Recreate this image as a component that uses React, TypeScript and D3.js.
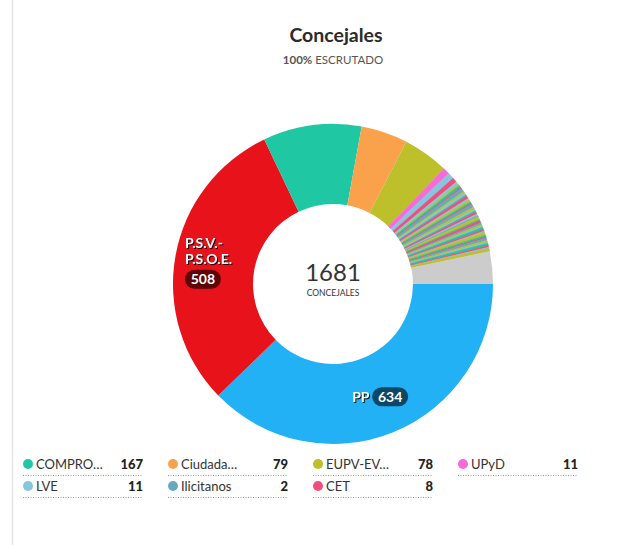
import React from "react";
import * as d3 from "d3";

const mainParties = ["PP", "P.S.V.-P.S.O.E.", "COMPROMÍS", "Ciudadanos", "EUPV-EV", "UPyD", "LVE", "CET"];
const mainSeats = [634, 508, 167, 79, 78, 11, 11, 8];
const mainColors = ["#23b1f5", "#e8121b", "#20c7a3", "#f9a24b", "#bdbf2b", "#f66bd6", "#85c6dc", "#ee4f7d"];

// many small local parties (read as thin stripes)
const smallSeats = [5, 3, 4, 2, 6, 3, 4, 2, 5, 3, 4, 3, 2, 5, 4, 3, 2, 4, 3, 5, 2, 4, 3, 3, 2, 4, 3, 2, 5, 3, 2, 4, 3, 2, 4, 3, 2, 5];
const ilicitanosSeats = 2;
const othersSeats = 55;

const stripePalette = ["#85c6dc", "#bdbf2b", "#20c7a3", "#ee4f7d", "#67aabf", "#bdbf2b", "#85c6dc", "#20c7a3", "#ee4f7d"];

const legendNames = ["COMPRO…", "Ciudada…", "EUPV-EV…", "UPyD", "LVE", "Ilicitanos", "CET"];
const legendValues = [167, 79, 78, 11, 11, 2, 8];
const legendColors = ["#20c7a3", "#f9a24b", "#bdbf2b", "#f66bd6", "#85c6dc", "#67aabf", "#ee4f7d"];

const totalSeats = 1681;

type Slice = { name: string; value: number; color: string };

export default function App() {
  const W = 635, H = 545;
  const cx = 333, cy = 284;
  const outerR = 160, innerR = 80;

  const slices: Slice[] = [];
  mainParties.forEach((n, i) => slices.push({ name: n, value: mainSeats[i], color: mainColors[i] }));
  smallSeats.forEach((v, i) => {
    slices.push({ name: "s" + i, value: v, color: stripePalette[i % stripePalette.length] });
    if (i === 18) slices.push({ name: "Ilicitanos", value: ilicitanosSeats, color: "#67aabf" });
  });
  slices.push({ name: "Otros", value: othersSeats, color: "#cccccc" });

  const pie = d3.pie<Slice>().sort(null).value(d => d.value).startAngle(Math.PI / 2).endAngle(Math.PI / 2 + 2 * Math.PI);
  const arcs = pie(slices);
  const arc = d3.arc<d3.PieArcDatum<Slice>>().innerRadius(innerR).outerRadius(outerR);

  const ppArc = arcs[0];
  const psoeArc = arcs[1];
  const [ppx, ppy] = arc.centroid(ppArc);
  const [psx, psy] = arc.centroid(psoeArc);

  const font = "Lato, 'Open Sans', sans-serif";
  const shadow = "drop-shadow(1px 1px 0px rgba(0,0,0,0.85))";

  const colX = [23, 168, 313, 458];
  const rowY = [464, 486];

  return (
    <div style={{ position: "fixed", left: 0, top: 0, width: W, height: H, background: "#fff" }}>
      <svg width={W} height={H} style={{ display: "block", fontFamily: font }}>
        <line x1={12.5} x2={12.5} y1={0} y2={H} stroke="#e6e6e6" strokeWidth={1.5} />
        <text x={336} y={42} textAnchor="middle" fontSize={19.5} fontWeight={700} fill="#2b2b2b">Concejales</text>
        <text x={333} y={64} textAnchor="middle" fontSize={11.5} fill="#555">
          <tspan fontWeight={700}>100%</tspan> ESCRUTADO
        </text>
        <g transform={`translate(${cx},${cy})`}>
          {arcs.map((a, i) => (
            <path key={i} d={arc(a) || ""} fill={a.data.color} stroke={i > 4 && i < arcs.length - 1 ? a.data.color : "none"} strokeWidth={0.6} />
          ))}
          <text x={0} y={-3} textAnchor="middle" fontSize={24} fill="#333">{totalSeats}</text>
          <text x={0} y={12} textAnchor="middle" fontSize={8.5} fill="#333">CONCEJALES</text>

          {/* PSOE label */}
          <g transform={`translate(${psx},${psy})`}>
            <g style={{ filter: shadow }}>
              <text x={-30} y={-15} fontSize={14} fontWeight={700} fill="#fff">P.S.V.-</text>
              <text x={-30} y={1} fontSize={14} fontWeight={700} fill="#fff">P.S.O.E.</text>
            </g>
            <rect x={-30} y={7} width={36} height={19} rx={9.5} fill="#5e0606" />
            <text x={-12} y={21.5} textAnchor="middle" fontSize={14} fontWeight={700} fill="#fff">{mainSeats[1]}</text>
          </g>

          {/* PP label */}
          <g transform={`translate(${ppx},${ppy})`}>
            <text x={-26} y={6.5} fontSize={14} fontWeight={700} fill="#fff" style={{ filter: shadow }}>PP</text>
            <rect x={-6} y={-8} width={36} height={19} rx={9.5} fill="#0d4766" />
            <text x={12} y={6.5} textAnchor="middle" fontSize={14} fontWeight={700} fill="#fff">{mainSeats[0]}</text>
          </g>
        </g>

        {legendNames.map((n, i) => {
          const col = i % 4, row = Math.floor(i / 4);
          const x = colX[col], y = rowY[row];
          return (
            <g key={n} transform={`translate(${x},${y})`}>
              <circle cx={5} cy={0} r={5} fill={legendColors[i]} />
              <text x={13} y={4.5} fontSize={13} fill="#333">{n}</text>
              <text x={120} y={4.5} textAnchor="end" fontSize={13} fontWeight={900} fill="#222">{legendValues[i]}</text>
              <line x1={0} x2={120} y1={11.5} y2={11.5} stroke="#999" strokeDasharray="1,1.5" />
            </g>
          );
        })}
      </svg>
    </div>
  );
}
